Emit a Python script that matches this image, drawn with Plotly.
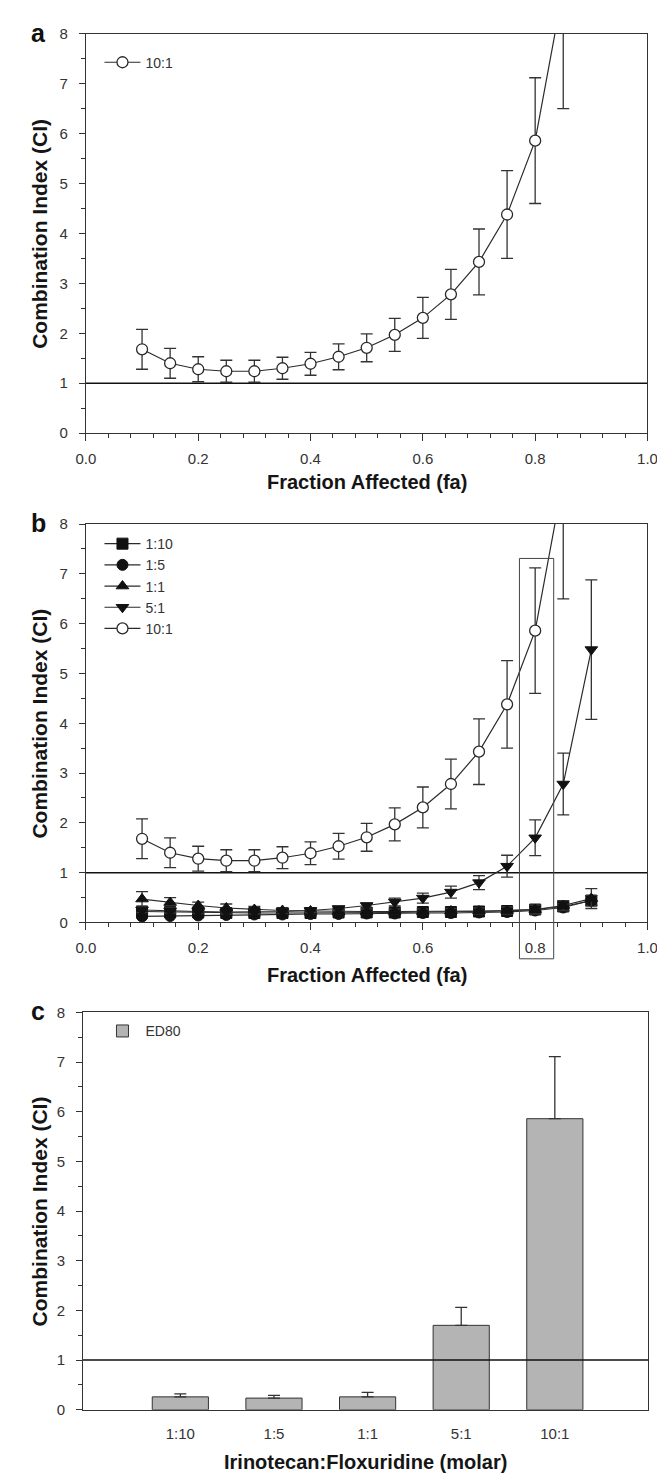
import plotly.graph_objects as go

# ---------------- data ----------------
fa_10_1 = [0.10, 0.15, 0.20, 0.25, 0.30, 0.35, 0.40, 0.45, 0.50, 0.55, 0.60, 0.65, 0.70, 0.75, 0.80, 0.85]
ci_10_1 = [1.68, 1.40, 1.28, 1.24, 1.24, 1.30, 1.39, 1.53, 1.71, 1.97, 2.31, 2.78, 3.43, 4.38, 5.86, 8.90]
err_10_1 = [0.40, 0.30, 0.25, 0.22, 0.22, 0.22, 0.23, 0.26, 0.28, 0.33, 0.41, 0.50, 0.66, 0.88, 1.26, 2.40]

fa_all = [0.10, 0.15, 0.20, 0.25, 0.30, 0.35, 0.40, 0.45, 0.50, 0.55, 0.60, 0.65, 0.70, 0.75, 0.80, 0.85, 0.90]
ci_1_10 = [0.22, 0.21, 0.20, 0.19, 0.19, 0.19, 0.19, 0.20, 0.20, 0.20, 0.21, 0.21, 0.22, 0.23, 0.26, 0.32, 0.44]
err_1_10 = [0.04, 0.04, 0.04, 0.03, 0.03, 0.03, 0.03, 0.03, 0.03, 0.03, 0.03, 0.03, 0.03, 0.04, 0.06, 0.08, 0.10]
ci_1_5 = [0.12, 0.13, 0.14, 0.15, 0.16, 0.16, 0.17, 0.17, 0.18, 0.18, 0.19, 0.19, 0.20, 0.21, 0.24, 0.30, 0.44]
err_1_5 = [0.03, 0.03, 0.03, 0.03, 0.03, 0.03, 0.03, 0.03, 0.03, 0.03, 0.03, 0.03, 0.03, 0.04, 0.055, 0.07, 0.10]
ci_1_1 = [0.47, 0.40, 0.34, 0.29, 0.26, 0.24, 0.23, 0.22, 0.22, 0.22, 0.22, 0.23, 0.23, 0.24, 0.26, 0.34, 0.48]
err_1_1 = [0.15, 0.10, 0.07, 0.08, 0.06, 0.05, 0.05, 0.05, 0.05, 0.05, 0.05, 0.05, 0.06, 0.07, 0.09, 0.10, 0.20]
ci_5_1 = [0.25, 0.23, 0.22, 0.21, 0.21, 0.22, 0.24, 0.28, 0.34, 0.41, 0.49, 0.61, 0.80, 1.13, 1.70, 2.78, 5.48]
err_5_1 = [0.05, 0.04, 0.04, 0.04, 0.04, 0.04, 0.04, 0.04, 0.05, 0.08, 0.10, 0.12, 0.14, 0.22, 0.36, 0.62, 1.40]

ratios = ["1:10", "1:5", "1:1", "5:1", "10:1"]
ed80 = [0.26, 0.235, 0.26, 1.70, 5.86]
ed80_err = [0.06, 0.055, 0.09, 0.36, 1.25]

box_fa = [0.772, 0.833]      # highlighted fa window in panel b
box_ci = [-0.73, 7.31]

# ---------------- layout helpers ----------------
W, H = 665, 1476
def px(x):
    return x / W
def py(y):
    return 1 - y / H

TXT = "#222222"
LINE = "#2a2a2a"
FONT = "Liberation Sans, Arial, sans-serif"
TICKFONT = dict(family=FONT, size=15, color="#333333")

fig = go.Figure()

def err(arr, minus=None):
    d = dict(type="data", array=arr, visible=True, color="#333333", thickness=1.3, width=6)
    if minus is not None:
        d.update(symmetric=False, arrayminus=minus)
    return d

# panel a
fig.add_trace(go.Scatter(x=fa_10_1, y=ci_10_1, error_y=err(err_10_1), mode="lines+markers",
                         name="10:1", xaxis="x", yaxis="y", legend="legend",
                         line=dict(color=LINE, width=1.2),
                         marker=dict(symbol="circle", size=11, color="white", line=dict(color=LINE, width=1.3))))

# panel b
series_b = [
    ("1:10", ci_1_10, err_1_10, "square"),
    ("1:5", ci_1_5, err_1_5, "circle"),
    ("1:1", ci_1_1, err_1_1, "triangle-up"),
    ("5:1", ci_5_1, err_5_1, "triangle-down"),
]
for name, ys, es, sym in series_b:
    fig.add_trace(go.Scatter(x=fa_all, y=ys, error_y=err(es), mode="lines+markers", name=name,
                             xaxis="x2", yaxis="y2", legend="legend2",
                             line=dict(color=LINE, width=1.2),
                             marker=dict(symbol=sym, size=11, color="#111111", line=dict(color="#111111", width=1))))
fig.add_trace(go.Scatter(x=fa_10_1, y=ci_10_1, error_y=err(err_10_1), mode="lines+markers",
                         name="10:1", xaxis="x2", yaxis="y2", legend="legend2",
                         line=dict(color=LINE, width=1.2),
                         marker=dict(symbol="circle", size=11, color="white", line=dict(color=LINE, width=1.3))))

# panel c
fig.add_trace(go.Bar(x=ratios, y=ed80, name="ED80", xaxis="x3", yaxis="y3", legend="legend3",
                     width=0.6, marker=dict(color="#b4b4b4", line=dict(color="#333333", width=1)),
                     error_y=err(ed80_err, [0] * len(ed80_err))))

# ---------------- axes ----------------
def xaxis_fa(anchor):
    return dict(anchor=anchor, range=[0, 1], tickvals=[0, 0.2, 0.4, 0.6, 0.8, 1.0],
                ticktext=["0.0", "0.2", "0.4", "0.6", "0.8", "1.0"],
                ticks="outside", ticklen=7, tickwidth=1, tickcolor="#333",
                minor=dict(dtick=0.04, tick0=0, ticks="outside", ticklen=4, tickwidth=1, tickcolor="#333"),
                showline=True, linecolor="#333", linewidth=1, mirror=True,
                showgrid=False, zeroline=False, tickfont=TICKFONT, ticklabelstandoff=5)

def yaxis_ci(anchor):
    return dict(anchor=anchor, range=[0, 8], dtick=1, tick0=0,
                ticks="outside", ticklen=6, tickwidth=1, tickcolor="#333",
                minor=dict(dtick=0.5, tick0=0, ticks="outside", ticklen=4, tickwidth=1, tickcolor="#333"),
                showline=True, linecolor="#333", linewidth=1, mirror=True,
                showgrid=False, zeroline=False, tickfont=TICKFONT, ticklabelstandoff=8)

pa = dict(l=70, r=649, t=17, b=421)
pb = dict(l=70, r=649, t=513, b=916)
pc = dict(l=67, r=650, t=1007, b=1409)

xa = xaxis_fa("y"); xa["domain"] = [px(pa["l"]), px(pa["r"])]
ya = yaxis_ci("x"); ya["domain"] = [py(pa["b"]), py(pa["t"])]
xb = xaxis_fa("y2"); xb["domain"] = [px(pb["l"]), px(pb["r"])]
yb = yaxis_ci("x2"); yb["domain"] = [py(pb["b"]), py(pb["t"])]
xc = dict(anchor="y3", domain=[px(pc["l"]), px(pc["r"])], type="category", range=[-1.04, 5.0],
          ticks="", showline=True, linecolor="#333", linewidth=1, mirror=True, showgrid=False,
          tickfont=TICKFONT, ticklabelstandoff=10)
yc = yaxis_ci("x3"); yc["domain"] = [py(pc["b"]), py(pc["t"])]

legend_common = dict(bgcolor="rgba(0,0,0,0)", borderwidth=0,
                     font=dict(family=FONT, size=14, color="#333"),
                     xanchor="left", yanchor="top", itemwidth=36, tracegroupgap=0)

fig.update_layout(
    width=W, height=H, margin=dict(l=0, r=0, t=0, b=0),
    paper_bgcolor="white", plot_bgcolor="white",
    font=dict(family=FONT, color=TXT),
    bargap=0.4,
    xaxis=xa, yaxis=ya, xaxis2=xb, yaxis2=yb, xaxis3=xc, yaxis3=yc,
    legend=dict(x=px(84), y=py(30), **legend_common),
    legend2=dict(x=px(84), y=py(517), **legend_common),
    legend3=dict(x=px(84), y=py(1010), **legend_common),
    showlegend=True,
)

# reference lines CI = 1
for xr, yr in [("x", "y"), ("x2", "y2"), ("x3", "y3")]:
    fig.add_shape(type="line", xref=f"{xr} domain", yref=yr, x0=0, x1=1, y0=1, y1=1,
                  line=dict(color="#111", width=1.5), layer="above" if xr == "x3" else "below")

# highlight box around fa = 0.8 in panel b (range of x2 is 0..1, y2 is 0..8)
fig.add_shape(type="rect", xref="x2 domain", yref="y2 domain",
              x0=box_fa[0], x1=box_fa[1], y0=box_ci[0] / 8, y1=box_ci[1] / 8,
              line=dict(color="#444", width=1), fillcolor="rgba(0,0,0,0)", layer="above")

# titles and panel letters
TITLE = dict(family=FONT, size=20, color="#151515")
ann = []
for p, letter in [(pa, "a"), (pb, "b"), (pc, "c")]:
    ann.append(dict(text="<b>Combination Index (CI)</b>", textangle=-90, xref="paper", yref="paper",
                    x=px(22), y=py((p["t"] + p["b"]) / 2), showarrow=False,
                    font=dict(family=FONT, size=21, color="#151515"),
                    xanchor="center", yanchor="middle"))
    ann.append(dict(text=f"<b>{letter}</b>", xref="paper", yref="paper", x=px(21), y=py(p["t"] - 1),
                    showarrow=False, font=dict(family=FONT, size=25, color="#111"),
                    xanchor="center", yanchor="middle"))
xt_y = {"a": 470, "b": 969, "c": 1462}
for p, letter, xt in [(pa, "a", "Fraction Affected (fa)"), (pb, "b", "Fraction Affected (fa)"),
                      (pc, "c", "Irinotecan:Floxuridine (molar)")]:
    ann.append(dict(text=f"<b>{xt}</b>", xref="paper", yref="paper", x=px((p["l"] + p["r"]) / 2),
                    y=py(xt_y[letter]), showarrow=False, font=TITLE, xanchor="center", yanchor="middle"))
fig.update_layout(annotations=ann)

fig.write_html("out.html")
